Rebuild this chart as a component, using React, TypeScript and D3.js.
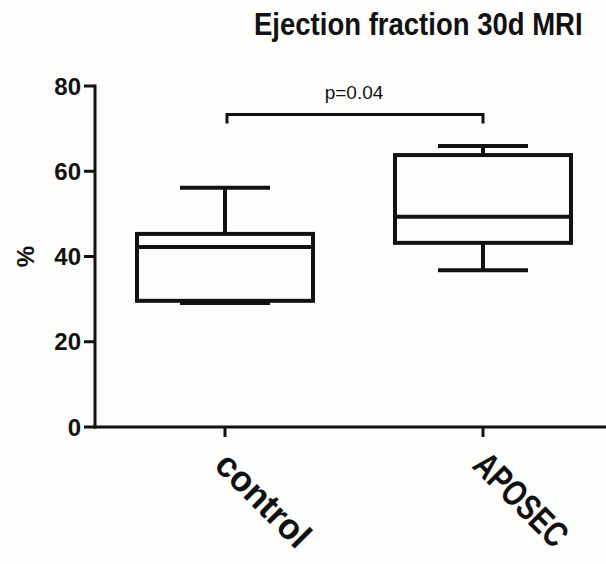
import React from "react";
import * as d3 from "d3";

const title = "Ejection fraction 30d MRI";
const yLabel = "%";
const categories = ["control", "APOSEC"];
const whiskerLow = [29.1, 36.8];
const q1 = [29.6, 43.2];
const medians = [42.2, 49.3];
const q3 = [45.3, 63.8];
const whiskerHigh = [56.1, 65.9];
const yTicks = [0, 20, 40, 60, 80];
const pLabel = "p=0.04";

const W = 606;
const H = 564;

export default function App() {
  const y = d3.scaleLinear().domain([0, 80]).range([427, 86]);
  const x = d3.scalePoint<string>().domain(categories).range([225, 483]);
  const boxW = 176;
  const capW = 90;
  const font = "'Liberation Sans', Arial, sans-serif";
  const bracketY = y(73.3);
  const labelScale = [0.967, 0.77];
  return (
    <svg
      width={W}
      height={H}
      style={{ position: "absolute", left: 0, top: 0, background: "#fdfdfb" }}
      fontFamily={font}
    >
      <rect width={W} height={H} fill="#fdfdfb" />
      <text
        transform="translate(254,35) scale(0.86,1)"
        fontSize={32}
        fontWeight="bold"
        fill="#111"
      >
        {title}
      </text>
      {/* y axis */}
      <line x1={95} x2={95} y1={y(80) - 1.5} y2={y(0) + 1.5} stroke="#111" strokeWidth={3} />
      {yTicks.map((t) => (
        <g key={t}>
          <line x1={84} x2={95} y1={y(t)} y2={y(t)} stroke="#111" strokeWidth={3} />
          <text x={81} y={y(t)} dy="0.36em" textAnchor="end" fontSize={24} fontWeight="bold" fill="#111">
            {t}
          </text>
        </g>
      ))}
      <text
        transform={`translate(34,${y(40)}) rotate(-90)`}
        textAnchor="middle"
        fontSize={24}
        fontWeight="bold"
        fill="#111"
      >
        {yLabel}
      </text>
      {/* x axis */}
      <line x1={93.5} x2={W} y1={y(0)} y2={y(0)} stroke="#111" strokeWidth={3} />
      {categories.map((c, i) => (
        <g key={c}>
          <line x1={x(c)} x2={x(c)} y1={y(0)} y2={y(0) + 10} stroke="#111" strokeWidth={3} />
          <text
            transform={`translate(${(x(c) as number) - 12},${y(0) + 40}) rotate(45) scale(${labelScale[i]},1)`}
            fontSize={36}
            fontWeight="bold"
            fill="#111"
          >
            {c}
          </text>
        </g>
      ))}
      {/* boxes */}
      {categories.map((c, i) => {
        const cx = x(c) as number;
        return (
          <g key={c} stroke="#111" strokeWidth={4} fill="none">
            <line x1={cx} x2={cx} y1={y(whiskerHigh[i])} y2={y(q3[i])} />
            <line x1={cx} x2={cx} y1={y(q1[i])} y2={y(whiskerLow[i])} />
            <line x1={cx - capW / 2} x2={cx + capW / 2} y1={y(whiskerHigh[i])} y2={y(whiskerHigh[i])} />
            <line x1={cx - capW / 2} x2={cx + capW / 2} y1={y(whiskerLow[i])} y2={y(whiskerLow[i])} />
            <rect x={cx - boxW / 2} y={y(q3[i])} width={boxW} height={y(q1[i]) - y(q3[i])} />
            <line x1={cx - boxW / 2} x2={cx + boxW / 2} y1={y(medians[i])} y2={y(medians[i])} />
          </g>
        );
      })}
      {/* significance bracket */}
      <path
        d={`M${(x(categories[0]) as number) + 2},${bracketY + 9} V${bracketY} H${x(categories[1])} V${bracketY + 9}`}
        fill="none"
        stroke="#111"
        strokeWidth={3}
      />
      <text x={354} y={99} textAnchor="middle" fontSize={19} fill="#111">
        {pLabel}
      </text>
    </svg>
  );
}
